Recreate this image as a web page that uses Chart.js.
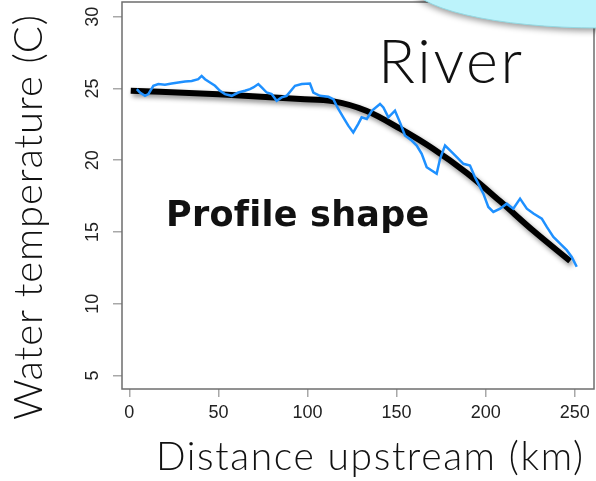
<!DOCTYPE html>
<html>
<head>
<meta charset="utf-8">
<title>River temperature profile</title>
<script src="https://cdn.jsdelivr.net/npm/chart.js@4.4.1/dist/chart.umd.min.js"></script>
<style>
  html, body { margin: 0; padding: 0; background: #fff; }
  #wrap { width: 596px; height: 481px; }
</style>
</head>
<body>
<div id="wrap"><canvas id="riverChart" width="596" height="481"></canvas></div>
<script>
const xTicks = [0, 50, 100, 150, 200, 250];
const yTicks = [5, 10, 15, 20, 25, 30];

// observed water temperature along the river (blue trace)
const obsKm = [4.2, 6.0, 8.8, 10.7, 13.5, 16.3, 20.0, 23.8, 27.5, 31.3, 35.0, 38.7, 40.6, 42.5,
  45.3, 48.1, 50.9, 53.7, 57.5, 61.2, 64.9, 67.7, 69.6, 72.4, 74.3, 77.1, 79.9, 82.7, 85.5,
  88.3, 93.0, 96.8, 101.4, 103.3, 107.0, 111.7, 114.5, 117.3, 120.1, 122.9, 125.7, 128.5,
  130.4, 133.3, 136.1, 140.7, 142.6, 145.4, 149.1, 151.9, 154.7, 158.5, 161.3, 164.1, 166.9,
  169.7, 172.5, 174.4, 177.2, 180.0, 183.8, 187.5, 191.2, 194.0, 198.7, 201.5, 204.3, 208.1,
  211.8, 215.5, 219.3, 223.1, 226.8, 231.5, 234.3, 238.0, 241.8, 245.5, 248.3, 251.1];
const obsTemp = [24.96, 24.72, 24.49, 24.61, 25.19, 25.31, 25.26, 25.35, 25.42, 25.49, 25.53,
  25.65, 25.88, 25.65, 25.42, 25.19, 24.84, 24.61, 24.49, 24.72, 24.84, 24.96, 25.07, 25.31,
  25.07, 24.72, 24.61, 24.15, 24.38, 24.49, 25.19, 25.31, 25.35, 24.72, 24.49, 24.42, 24.26,
  23.57, 22.99, 22.41, 21.94, 22.53, 22.99, 22.88, 23.45, 23.92, 23.68, 22.99, 23.45, 22.64,
  21.72, 21.37, 21.02, 20.44, 19.51, 19.28, 19.06, 20.10, 21.02, 20.68, 20.21, 19.75, 19.63,
  18.82, 17.67, 16.74, 16.39, 16.62, 16.97, 16.62, 17.32, 16.62, 16.28, 15.93, 15.35, 14.65,
  14.19, 13.73, 13.26, 12.57];

// fitted profile shape (black curve)
const fitKm = [0.8, 50, 96, 114, 133, 152, 170.5, 189.5, 208, 226.6, 247.4];
const fitTemp = [24.85, 24.6, 24.26, 24.12, 23.45, 22.2, 20.8, 19.1, 17.15, 15.1, 12.97];

const xTitle = 'Distance upstream (km)';
const yTitle = 'Water temperature (C)';
const riverLabel = 'River';
const shapeLabel = 'Profile shape';

const thinFont = '"Lato", "Open Sans", sans-serif';
const tickFont = '"Liberation Sans", Arial, sans-serif';

const toPoints = (xs, ys) => xs.map((x, i) => ({ x, y: ys[i] }));

// draw a text so it spans a given length (letter spacing fills the gap)
function drawSpanned(ctx, text, x, y, length, font, rotate) {
  ctx.save();
  ctx.font = font;
  ctx.fillStyle = '#111';
  ctx.textAlign = 'left';
  ctx.textBaseline = 'alphabetic';
  ctx.translate(x, y);
  if (rotate) ctx.rotate(-Math.PI / 2);
  const w = ctx.measureText(text).width;
  if ('letterSpacing' in ctx) {
    ctx.letterSpacing = ((length - w) / (text.length - 1)).toFixed(2) + 'px';
  } else {
    ctx.scale(length / w, 1);
  }
  ctx.fillText(text, 0, 0);
  ctx.restore();
}

const decorations = {
  id: 'decorations',
  beforeDatasetDraw(chart, args) {
    if (args.index !== 1) return;
    const ctx = chart.ctx;
    ctx.save();
    ctx.shadowColor = 'rgba(0, 0, 0, 0.45)';
    ctx.shadowBlur = 5;
    ctx.shadowOffsetX = 2;
    ctx.shadowOffsetY = 3;
  },
  afterDatasetDraw(chart, args) {
    if (args.index === 1) chart.ctx.restore();
  },
  afterDraw(chart) {
    const { ctx, chartArea: a, scales } = chart;

    // plot box
    ctx.save();
    ctx.strokeStyle = '#6e6e6e';
    ctx.lineWidth = 1.5;
    ctx.strokeRect(a.left, a.top, a.right - a.left, a.bottom - a.top);
    ctx.restore();

    // y tick labels, rotated like R's default
    ctx.save();
    ctx.font = '18px ' + tickFont;
    ctx.fillStyle = '#222';
    ctx.textAlign = 'center';
    ctx.textBaseline = 'alphabetic';
    yTicks.forEach(v => {
      ctx.save();
      ctx.translate(98, scales.y.getPixelForValue(v));
      ctx.rotate(-Math.PI / 2);
      ctx.fillText(String(v), 0, 0);
      ctx.restore();
    });
    ctx.restore();

    // callout shape in the corner
    ctx.save();
    ctx.shadowColor = 'rgba(0, 0, 0, 0.4)';
    ctx.shadowBlur = 6;
    ctx.shadowOffsetY = 3;
    ctx.fillStyle = '#bcf3fb';
    ctx.beginPath();
    ctx.ellipse(600, -17, 190, 45, 0, 0, Math.PI * 2);
    ctx.fill();
    ctx.restore();
    ctx.save();
    ctx.strokeStyle = '#93d9e3';
    ctx.lineWidth = 1;
    ctx.beginPath();
    ctx.ellipse(600, -17, 190, 45, 0, 0, Math.PI * 2);
    ctx.stroke();
    ctx.restore();

    // titles and labels
    drawSpanned(ctx, xTitle, 156, 470, 427, '300 39px ' + thinFont, false);
    drawSpanned(ctx, yTitle, 42, 420, 405, '300 40px ' + thinFont, true);
    drawSpanned(ctx, riverLabel, 378, 83, 144, '300 61px ' + thinFont, false);
    drawSpanned(ctx, shapeLabel, 166, 226, 262, 'bold 35px "DejaVu Sans", sans-serif', false);
  }
};

new Chart(document.getElementById('riverChart'), {
  type: 'line',
  data: {
    datasets: [{
      label: 'Observed',
      data: toPoints(obsKm, obsTemp),
      borderColor: '#1e90ff',
      borderWidth: 2.5,
      pointRadius: 0,
      tension: 0,
    }, {
      label: 'Profile',
      data: toPoints(fitKm, fitTemp),
      borderColor: '#000',
      borderWidth: 6,
      pointRadius: 0,
      cubicInterpolationMode: 'monotone',
    }],
  },
  options: {
    responsive: false,
    animation: false,
    layout: { padding: { top: 2, right: 2, left: 0, bottom: 0 } },
    plugins: { legend: { display: false }, tooltip: { enabled: false } },
    scales: {
      x: {
        type: 'linear',
        min: -4.1,
        max: 260.8,
        afterBuildTicks: s => { s.ticks = xTicks.map(v => ({ value: v })); },
        afterFit: s => { s.height = 92; },
        grid: { drawOnChartArea: false, drawTicks: true, tickLength: 8, color: '#a8a8a8', lineWidth: 1.5 },
        border: { display: false },
        ticks: { color: '#222', padding: 5, maxRotation: 0, font: { family: tickFont, size: 18 } },
      },
      y: {
        type: 'linear',
        min: 4.05,
        max: 31.03,
        afterBuildTicks: s => { s.ticks = yTicks.map(v => ({ value: v })); },
        afterFit: s => { s.width = 122; },
        grid: { drawOnChartArea: false, drawTicks: true, tickLength: 9, color: '#a8a8a8', lineWidth: 1.5 },
        border: { display: false },
        ticks: { display: false },
      },
    },
  },
  plugins: [decorations],
});
</script>
</body>
</html>
